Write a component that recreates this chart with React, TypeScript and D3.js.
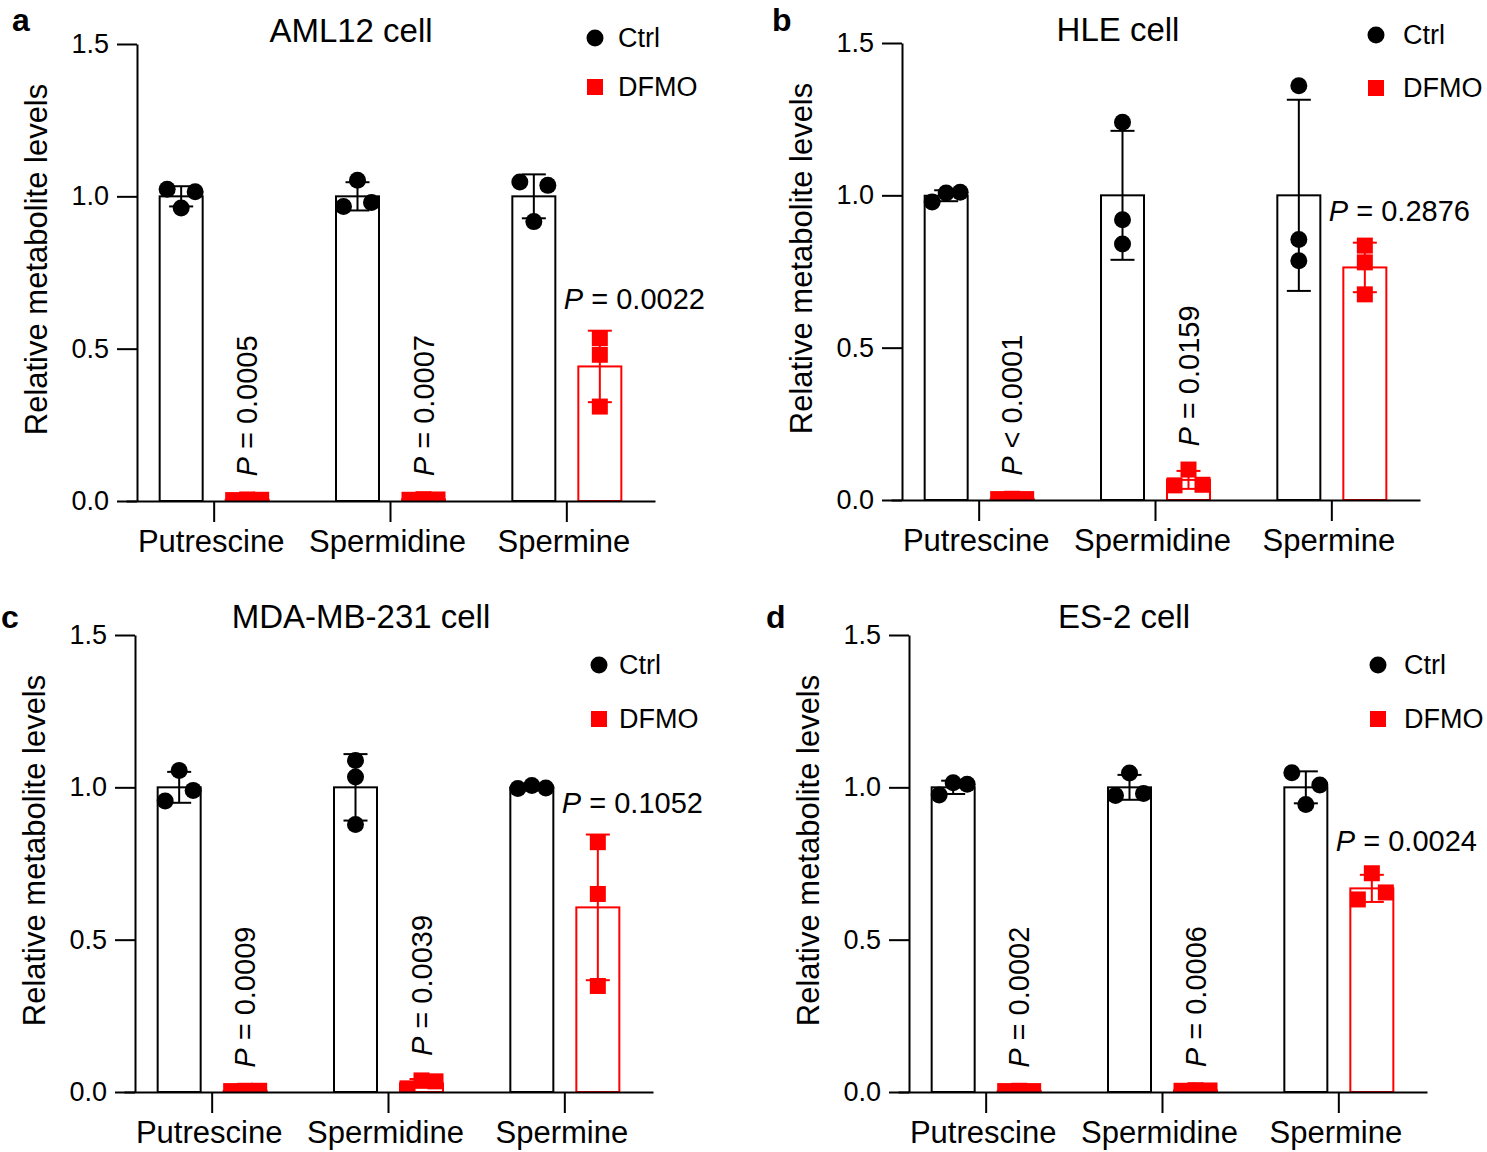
import React, {useRef, useEffect} from "react";
import * as d3 from "d3";

// shared axes / labels
const categories = ["Putrescine", "Spermidine", "Spermine"];
const groups = ["Ctrl", "DFMO"];
const yTicks = [0, 0.5, 1.0, 1.5];
const yLabel = "Relative metabolite levels";
const panelLetters = ["a", "b", "c", "d"];
const panelTitles = ["AML12 cell", "HLE cell", "MDA-MB-231 cell", "ES-2 cell"];

// replicate values per category (Putrescine, Spermidine, Spermine)
const aml12Ctrl = [[1.023, 1.015, 0.962], [0.967, 0.980, 1.053], [1.047, 1.036, 0.917]];
const aml12Dfmo = [[0.003, 0.005, 0.004], [0.004, 0.006, 0.005], [0.535, 0.48, 0.31]];
const aml12P = ["= 0.0005", "= 0.0007", "= 0.0022"];

const hleCtrl = [[0.978, 1.008, 1.01], [1.24, 0.92, 0.84], [1.36, 0.855, 0.785]];
const hleDfmo = [[0.003, 0.004, 0.003], [0.048, 0.1, 0.05], [0.835, 0.78, 0.675]];
const hleP = ["< 0.0001", "= 0.0159", "= 0.2876"];

const mdaCtrl = [[0.955, 1.055, 0.99], [1.088, 1.034, 0.878], [0.996, 1.006, 0.998]];
const mdaDfmo = [[0.003, 0.004, 0.004], [0.012, 0.038, 0.035], [0.82, 0.65, 0.348]];
const mdaP = ["= 0.0009", "= 0.0039", "= 0.1052"];

const es2Ctrl = [[0.975, 1.015, 1.01], [0.973, 1.047, 0.98], [1.048, 0.944, 1.008]];
const es2Dfmo = [[0.003, 0.004, 0.003], [0.004, 0.006, 0.005], [0.632, 0.718, 0.655]];
const es2P = ["= 0.0002", "= 0.0006", "= 0.0024"];

const panelData = [
    {ctrl: aml12Ctrl, dfmo: aml12Dfmo, pLabels: aml12P},
    {ctrl: hleCtrl, dfmo: hleDfmo, pLabels: hleP},
    {ctrl: mdaCtrl, dfmo: mdaDfmo, pLabels: mdaP},
    {ctrl: es2Ctrl, dfmo: es2Dfmo, pLabels: es2P}
];

// page layout of each panel
const layouts = [
    {axisX: 137, y0: 501, yTop: 44, titleX: 351, titleY: 42, letterX: 12, letterY: 31, legX: 595, legY1: 38, legY2: 87, legTextX: 618},
    {axisX: 902, y0: 500, yTop: 43, titleX: 1118, titleY: 41, letterX: 772, letterY: 31, legX: 1376, legY1: 35, legY2: 88, legTextX: 1403},
    {axisX: 135, y0: 1092, yTop: 635, titleX: 361, titleY: 628, letterX: 1, letterY: 628, legX: 599, legY1: 665, legY2: 719, legTextX: 619},
    {axisX: 909, y0: 1092, yTop: 635, titleX: 1124, titleY: 628, letterX: 766, letterY: 628, legX: 1378, legY1: 665, legY2: 719, legTextX: 1404}
];

const RED = "#ff0000";
const colors = {Ctrl: "#000", DFMO: RED};
const FONT = "'Liberation Sans', Arial, Helvetica, sans-serif";

// GraphPad-like horizontal spreading of replicates that overlap vertically
const spreadOffsets = (py, threshold, step) => {
    const pairs = [[0, 1], [0, 2], [1, 2]].filter(([i, j]) => Math.abs(py[i] - py[j]) < threshold);
    if (pairs.length === 0) return [0, 0, 0];
    if (pairs.length === 1) {
        const o = [0, 0, 0];
        o[pairs[0][0]] = -step;
        o[pairs[0][1]] = step;
        return o;
    }
    return [-step, 0, step];
};

const renderPanel = (svg, props) => {
    const {idx, layout, data} = props;
    const {axisX, y0, yTop} = layout;
    const g = svg.append("g").attr("class", `panel-${idx}`);

    const yScale = d3.scaleLinear().domain([0, 1.5]).range([y0, yTop]);
    const xScale = d3.scaleBand().domain(categories).range([axisX - 11, axisX + 518]);
    const groupScale = d3.scalePoint().domain(groups).range([-33, 33]);
    const barWidth = 43;
    const markerHalf = 8;

    const clipId = `clip-${idx}`;
    g.append("clipPath").attr("id", clipId)
        .append("rect")
        .attr("x", axisX).attr("y", yTop - 80)
        .attr("width", 540).attr("height", y0 - yTop + 80);

    const rows = [];
    categories.forEach((cat, ci) => {
        groups.forEach(grp => {
            const vals = grp === "Ctrl" ? data.ctrl[ci] : data.dfmo[ci];
            const mean = d3.mean(vals);
            const sd = d3.deviation(vals);
            const cx = xScale(cat) + xScale.bandwidth() / 2 + groupScale(grp);
            rows.push({cat, ci, grp, vals, mean, sd, cx});
        });
    });

    // bars
    g.selectAll(".bar").data(rows).enter().append("rect")
        .attr("class", "bar")
        .attr("x", d => d.cx - barWidth / 2)
        .attr("y", d => yScale(d.mean))
        .attr("width", barWidth)
        .attr("height", d => y0 - yScale(d.mean))
        .attr("fill", "#fff")
        .attr("stroke", d => colors[d.grp])
        .attr("stroke-width", 2);

    // error bars (mean +/- SD)
    const errG = g.append("g").attr("clip-path", `url(#${clipId})`);
    rows.forEach(d => {
        const col = colors[d.grp];
        const yHi = yScale(d.mean + d.sd);
        const yLo = yScale(Math.max(0, d.mean - d.sd));
        errG.append("line").attr("x1", d.cx).attr("x2", d.cx).attr("y1", yHi).attr("y2", yLo)
            .attr("stroke", col).attr("stroke-width", 2);
        [yHi, yLo].forEach(yy => errG.append("line")
            .attr("x1", d.cx - 12).attr("x2", d.cx + 12).attr("y1", yy).attr("y2", yy)
            .attr("stroke", col).attr("stroke-width", 2));
    });

    // replicate points
    const ptsG = g.append("g").attr("clip-path", `url(#${clipId})`);
    rows.forEach(d => {
        const py = d.vals.map(v => yScale(v));
        const offs = spreadOffsets(py, 13.5, 14);
        d.vals.forEach((v, i) => {
            if (d.grp === "Ctrl") {
                ptsG.append("circle")
                    .attr("cx", d.cx + offs[i]).attr("cy", py[i]).attr("r", 8.5)
                    .attr("fill", "#000");
            } else {
                ptsG.append("rect")
                    .attr("x", d.cx + offs[i] - markerHalf).attr("y", py[i] - markerHalf)
                    .attr("width", markerHalf * 2).attr("height", markerHalf * 2)
                    .attr("fill", RED);
            }
        });
    });

    // y axis
    const yAxisG = g.append("g").attr("transform", `translate(${axisX},0)`)
        .call(d3.axisLeft(yScale).tickValues(yTicks).tickFormat(d3.format(".1f"))
            .tickSize(20).tickSizeOuter(0).tickPadding(8));
    yAxisG.selectAll("path, line").attr("stroke", "#000").attr("stroke-width", 2);
    yAxisG.selectAll("text").attr("font-size", 27).attr("font-family", FONT).attr("fill", "#000");

    // x axis
    const xAxisG = g.append("g").attr("transform", `translate(0,${y0})`)
        .call(d3.axisBottom(xScale).tickSize(21).tickSizeOuter(0).tickPadding(8));
    xAxisG.selectAll("path, line").attr("stroke", "#000").attr("stroke-width", 2);
    xAxisG.selectAll("text").attr("font-size", 31).attr("font-family", FONT).attr("fill", "#000")
        .attr("dx", -3);

    // y label
    g.append("text")
        .attr("transform", `translate(${axisX - 90},${(y0 + yTop) / 2 - 13}) rotate(-90)`)
        .attr("text-anchor", "middle")
        .attr("font-size", 31)
        .text(yLabel);

    // title and panel letter
    g.append("text").attr("x", layout.titleX).attr("y", layout.titleY)
        .attr("text-anchor", "middle").attr("font-size", 33).text(panelTitles[idx]);
    g.append("text").attr("x", layout.letterX).attr("y", layout.letterY)
        .attr("font-size", 32).attr("font-weight", "bold").text(panelLetters[idx]);

    // P values
    rows.filter(d => d.grp === "DFMO").forEach(d => {
        const topVal = Math.max(d3.max(d.vals), d.mean + d.sd);
        const yTopPx = yScale(topVal) - markerHalf;
        const label = data.pLabels[d.ci];
        let t;
        if (topVal < 0.3) {
            t = g.append("text")
                .attr("transform", `translate(${d.cx + 10},${yTopPx - 15}) rotate(-90)`);
        } else {
            t = g.append("text").attr("x", d.cx - 36).attr("y", yTopPx - 14);
        }
        t.attr("font-size", 29);
        t.append("tspan").attr("font-style", "italic").text("P");
        t.append("tspan").text(" " + label);
    });

    // legend
    g.append("circle").attr("cx", layout.legX).attr("cy", layout.legY1).attr("r", 8.5).attr("fill", "#000");
    g.append("rect").attr("x", layout.legX - 8).attr("y", layout.legY2 - 8)
        .attr("width", 16).attr("height", 16).attr("fill", RED);
    g.append("text").attr("x", layout.legTextX).attr("y", layout.legY1 + 9)
        .attr("font-size", 27).text("Ctrl");
    g.append("text").attr("x", layout.legTextX).attr("y", layout.legY2 + 9)
        .attr("font-size", 27).text("DFMO");
};

const App = () => {
    const svgRef = useRef(null);

    useEffect(() => {
        const svg = d3.select(svgRef.current);
        svg.selectAll("*").remove();
        layouts.forEach((layout, idx) => {
            renderPanel(svg, {idx, layout, data: panelData[idx]});
        });
    }, []);

    return (
        <svg ref={svgRef} width={1487} height={1152}
             style={{position: "absolute", left: 0, top: 0, background: "#fff", fontFamily: FONT}}/>
    );
};

export default App;
